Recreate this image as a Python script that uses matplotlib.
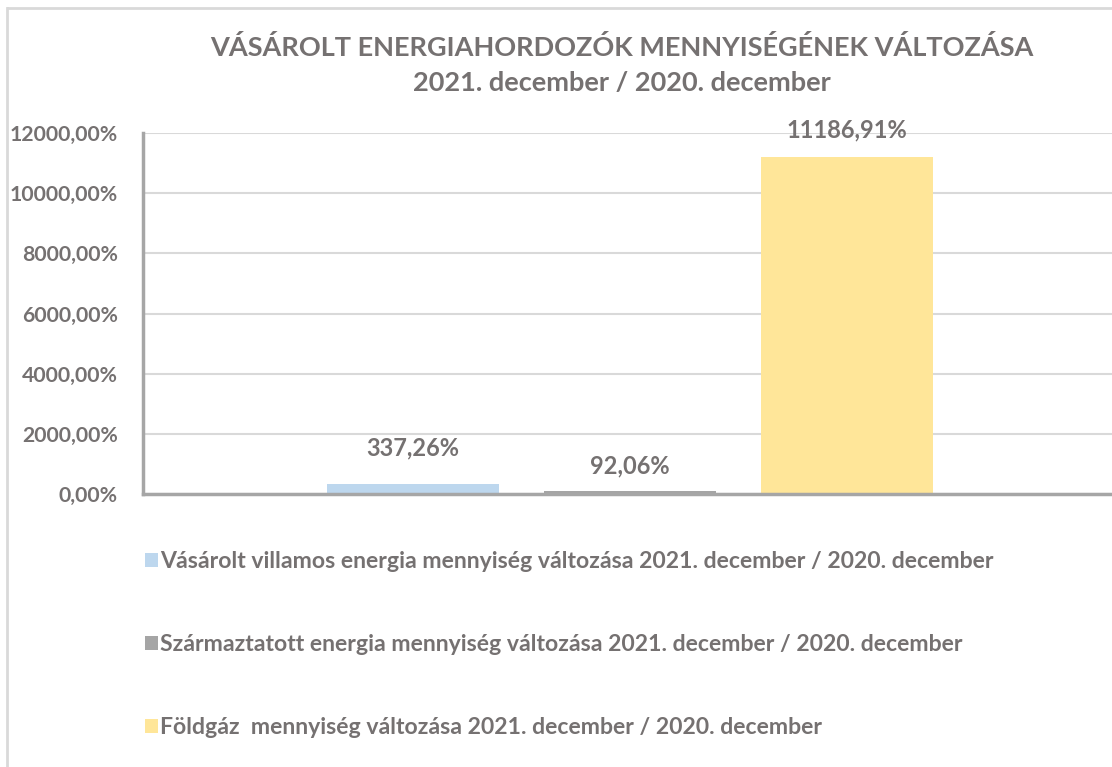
import matplotlib
matplotlib.use("Agg")
import matplotlib.pyplot as plt
from matplotlib.patches import Patch
from matplotlib.lines import Line2D
from matplotlib.ticker import FuncFormatter

# data
series = [
    "Vásárolt villamos energia mennyiség változása 2021. december / 2020. december",
    "Származtatott energia mennyiség változása 2021. december / 2020. december",
    "Földgáz  mennyiség változása 2021. december / 2020. december",
]
values = [337.26, 92.06, 11186.91]
yticks = [0, 2000, 4000, 6000, 8000, 10000, 12000]

colors = ["#bdd7ee", "#a5a5a5", "#ffe699"]
label_offsets = [24, 14, 16]  # px above bar top, as in the original
TXT = "#757171"

plt.rcParams["font.family"] = ["Lato", "DejaVu Sans"]
plt.rcParams["font.weight"] = "bold"

fig = plt.figure(figsize=(11.12, 7.67), dpi=100)
W, H = 1112, 767

# chart border (top and left edges are visible)
fig.add_artist(Line2D([8 / W, 1], [1 - 8 / H, 1 - 8 / H], color="#d9d9d9", lw=2))
fig.add_artist(Line2D([7 / W, 7 / W], [0, 1 - 8 / H], color="#d9d9d9", lw=2))

ax = fig.add_axes([143 / W, 1 - 494 / H, (W - 143) / W, (494 - 133) / H])

x = range(len(values))
ax.bar(x, values, width=0.79, color=colors, zorder=2)
ax.set_xlim(-1.244, -1.244 + (W - 143) / 217)
ax.set_ylim(0, 12000)
ax.set_yticks(yticks)
ax.yaxis.set_major_formatter(FuncFormatter(lambda v, p: f"{v:.2f}%".replace(".", ",")))
ax.tick_params(axis="y", length=0, pad=18, labelsize=15.3, labelcolor=TXT)
ax.set_xticks([])
ax.grid(axis="y", color="#d9d9d9", lw=1.5, zorder=0)

for s in ["top", "right"]:
    ax.spines[s].set_visible(False)
for s in ["left", "bottom"]:
    ax.spines[s].set_color("#a6a6a6")
    ax.spines[s].set_linewidth(2.5)
    ax.spines[s].set_zorder(3)

for xi, v, off in zip(x, values, label_offsets):
    ax.annotate(f"{v:.2f}%".replace(".", ","), (xi, v), xytext=(0, off * 0.72),
                textcoords="offset points", ha="center", va="bottom",
                fontsize=17, fontweight="bold", color=TXT)

fig.text(622 / W, 1 - 47 / H, "VÁSÁROLT ENERGIAHORDOZÓK MENNYISÉGÉNEK VÁLTOZÁSA",
         ha="center", va="center", fontsize=19.5, fontweight="bold", color=TXT)
fig.text(622 / W, 1 - 83 / H, "2021. december / 2020. december",
         ha="center", va="center", fontsize=19.5, fontweight="bold", color=TXT)

handles = [Patch(facecolor=c, edgecolor="none") for c in colors]
leg = fig.legend(handles, series, loc="upper left", bbox_to_anchor=(145 / W, 1 - 551 / H),
                 frameon=False, fontsize=16.6, labelspacing=2.7, handlelength=0.55,
                 handleheight=0.55, handletextpad=0.1, borderpad=0, borderaxespad=0)
for t in leg.get_texts():
    t.set_color(TXT)
    t.set_fontweight("bold")

fig.savefig("out.png", dpi=100)
